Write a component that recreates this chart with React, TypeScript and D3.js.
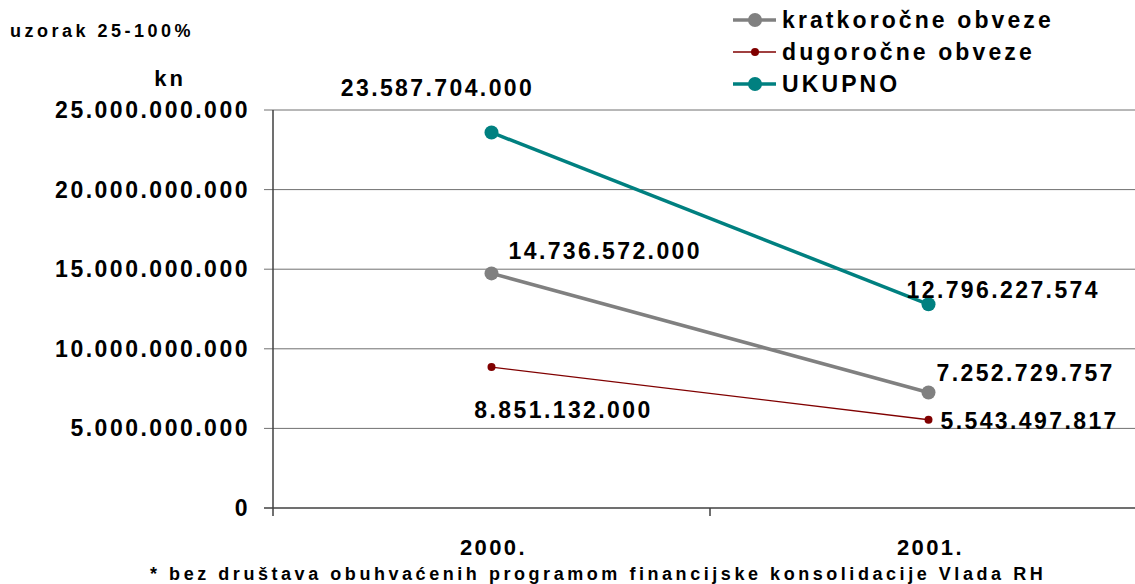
import React from 'react';
import * as d3 from 'd3';

const years = ['2000.', '2001.'];
const kratkorocne = [14736572000, 7252729757];
const dugorocne = [8851132000, 5543497817];
const ukupno = [23587704000, 12796227574];
const yTicks = [0, 5000000000, 10000000000, 15000000000, 20000000000, 25000000000];
const seriesNames = ['kratkoročne obveze', 'dugoročne obveze', 'UKUPNO'];

const FONT = '"Liberation Sans", Arial, sans-serif';

const fmt = (v: number) => d3.format(',')(v).replace(/,/g, '.');

const App = () => {
    const width = 1135;
    const height = 584;
    const margin = { top: 110, right: -12, bottom: 76, left: 273 };

    const x = d3.scaleBand().domain(years).range([margin.left, width - margin.right]);
    const y = d3.scaleLinear().domain([0, 25000000000]).range([height - margin.bottom, margin.top]);
    const cx = (d: string) => (x(d) as number) + x.bandwidth() / 2;

    const line = d3.line<number>().x((_, i) => cx(years[i])).y(d => y(d));

    const series = [
        { name: seriesNames[0], values: kratkorocne, color: '#808080', sw: 3.5, r: 7,
          labels: [{ dx: 17, dy: -22, anchor: 'start' }, { dx: 8, dy: -20, anchor: 'start' }] },
        { name: seriesNames[1], values: dugorocne, color: '#800000', sw: 1.3, r: 4,
          labels: [{ dx: 72, dy: 43, anchor: 'middle' }, { dx: 12, dy: 1, anchor: 'start' }] },
        { name: seriesNames[2], values: ukupno, color: '#008080', sw: 3.5, r: 7,
          labels: [{ dx: -54, dy: -45, anchor: 'middle' }, { dx: -22, dy: -14, anchor: 'start' }] },
    ];

    const x0 = margin.left;
    const x1 = width - margin.right;
    const yBottom = y(0);

    return (
        <svg width={width} height={height} style={{ position: 'absolute', left: 0, top: 0, background: '#fff' }}
            fontFamily={FONT} fontWeight="bold">
            <text x={10} y={37} fontSize={18} letterSpacing={3.5}>uzorak 25-100%</text>
            <text x={170} y={86} fontSize={22} letterSpacing={3} textAnchor="middle">kn</text>

            {/* grid + y ticks */}
            {yTicks.map(t => (
                <g key={t}>
                    <line x1={x0 - 9} x2={x1} y1={y(t)} y2={y(t)} stroke={t === 0 ? '#404040' : '#707070'} strokeWidth={t === 0 ? 1.5 : 1} />
                    <text x={x0 - 23} y={y(t)} dy="0.35em" textAnchor="end" fontSize={23} letterSpacing={2.5}>{fmt(t)}</text>
                </g>
            ))}
            <line x1={x0} x2={x0} y1={y(25000000000)} y2={yBottom + 8} stroke="#404040" strokeWidth={1.5} />
            {years.slice(1).map(d => (
                <line key={d} x1={x(d)} x2={x(d)} y1={yBottom} y2={yBottom + 8} stroke="#404040" strokeWidth={1.5} />
            ))}
            {years.map(d => (
                <text key={d} x={cx(d) + 2} y={555} textAnchor="middle" fontSize={22} letterSpacing={2.4}>{d}</text>
            ))}

            {series.map(s => (
                <g key={s.name}>
                    <path d={line(s.values) || ''} fill="none" stroke={s.color} strokeWidth={s.sw} />
                    {s.values.map((v, i) => (
                        <circle key={i} cx={cx(years[i])} cy={y(v)} r={s.r} fill={s.color} />
                    ))}
                </g>
            ))}
            {series.map(s => s.values.map((v, i) => (
                <text key={s.name + i} x={cx(years[i]) + s.labels[i].dx} y={y(v) + s.labels[i].dy} dy="0.35em"
                    textAnchor={s.labels[i].anchor} fontSize={23} letterSpacing={2.4}>{fmt(v)}</text>
            )))}

            {/* legend */}
            {series.map((s, i) => (
                <g key={s.name} transform={`translate(733, ${20 + i * 32})`}>
                    <line x1={0} x2={43} y1={0} y2={0} stroke={s.color} strokeWidth={s.sw} />
                    <circle cx={22} cy={0} r={s.r} fill={s.color} />
                    <text x={49} y={0} dy="0.35em" fontSize={23} letterSpacing={3.1}>{s.name}</text>
                </g>
            ))}

            <text x={150} y={580} fontSize={18} letterSpacing={3.55}>* bez društava obuhvaćenih programom financijske konsolidacije Vlada RH</text>
        </svg>
    );
};

export default App;
